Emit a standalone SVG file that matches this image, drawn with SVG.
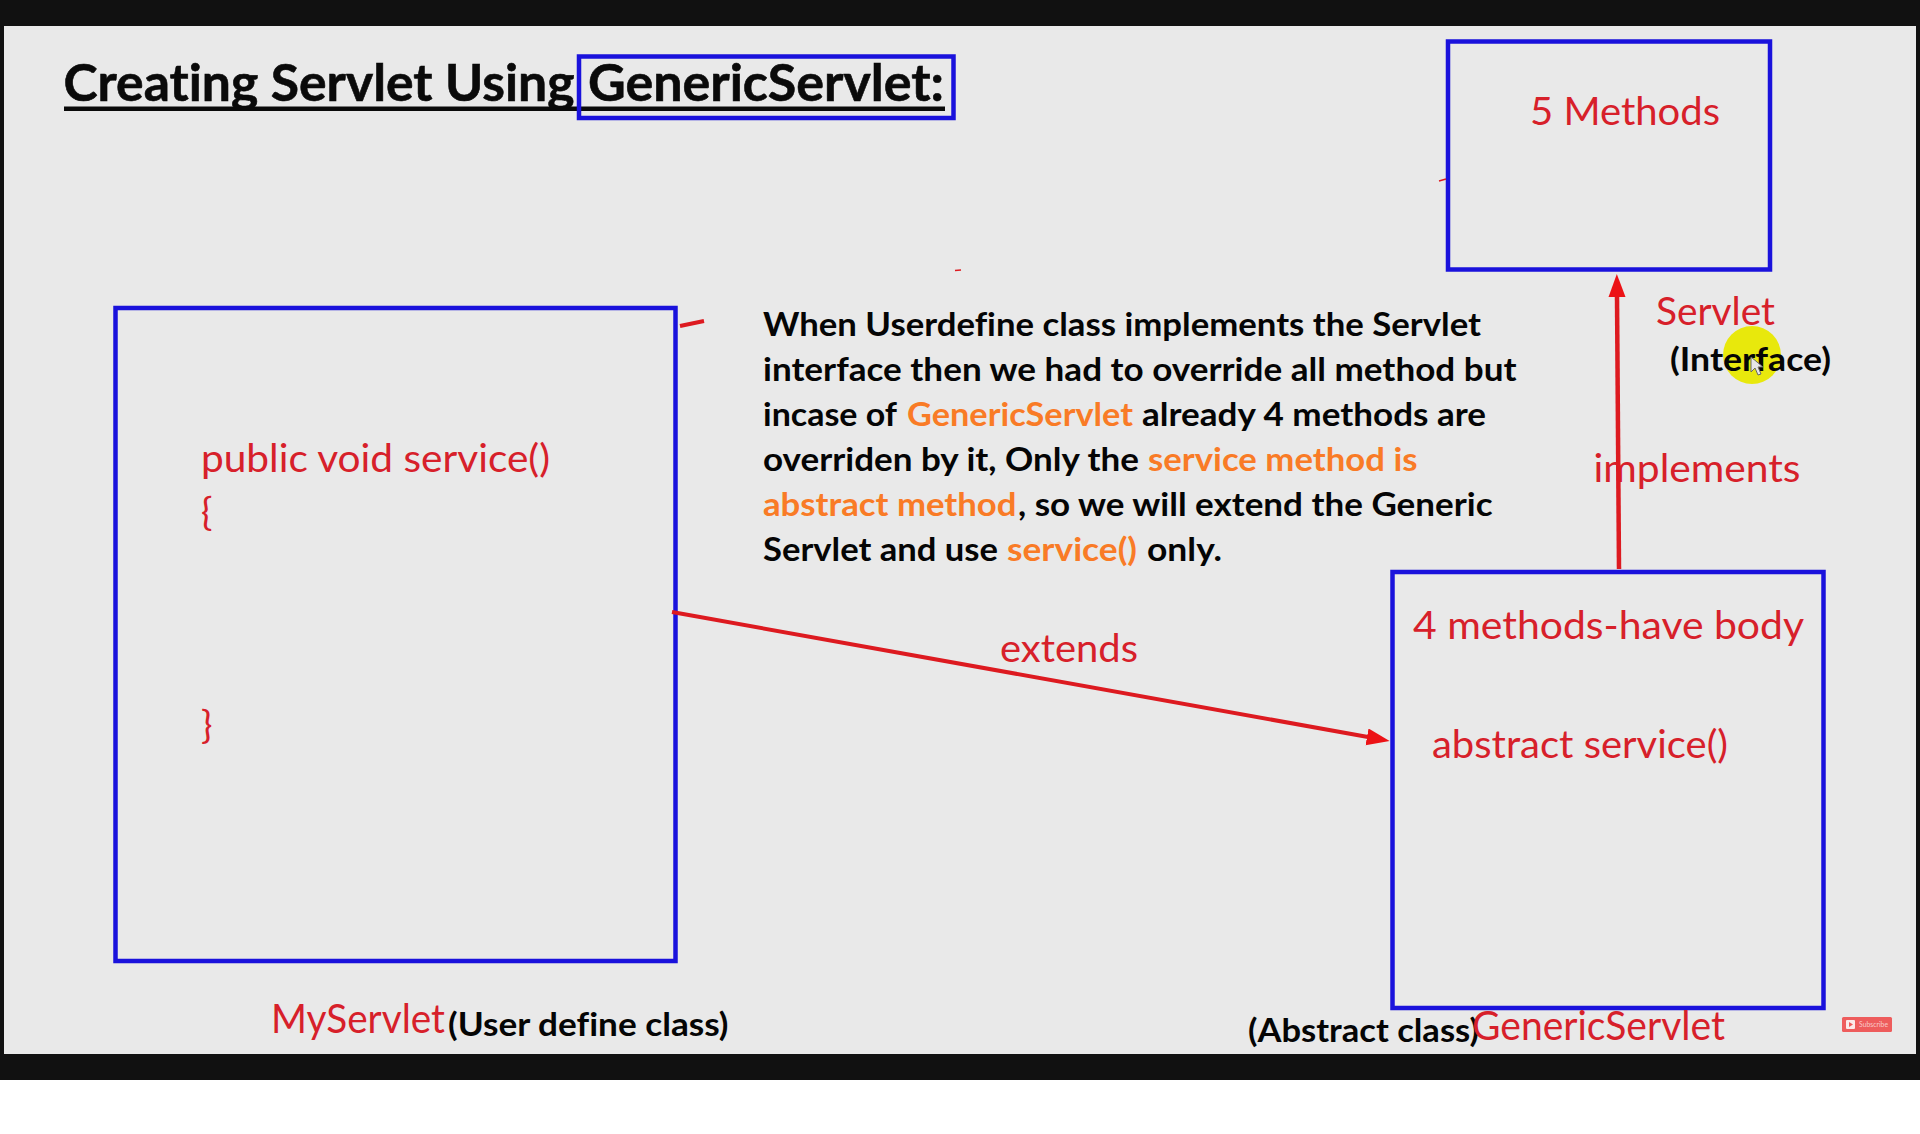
<svg xmlns="http://www.w3.org/2000/svg" width="1920" height="1134" viewBox="0 0 1920 1134">
<style>
text{font-family:Lato,"Open Sans","Liberation Sans",sans-serif;font-variant-ligatures:none}
.b{font-weight:700;fill:#050505;font-size:32px}
.o{font-weight:700;fill:#f97b26;font-size:32px}
.r{font-weight:400;fill:#d7202a;font-size:38px}
.t{font-weight:700;fill:#0a0a0a;font-size:52px;stroke:#0a0a0a;stroke-width:.6}
.box{fill:none;stroke:#1a12dc;stroke-width:4.5}
.line{fill:none;stroke:#dd1a20;stroke-width:4}
.tick{fill:none;stroke:#dd1a20}
</style>
<defs>
<marker id="ah" markerUnits="userSpaceOnUse" markerWidth="24" markerHeight="18" refX="1" refY="8.500" orient="auto"><path d="M0 0L23 8.500L0 17Z" fill="#ec1216"/></marker>
</defs>
<rect x="0" y="0" width="1920" height="1134" fill="#fff"/>
<rect x="0" y="0" width="1920" height="1080" fill="#111"/>
<rect x="4" y="26" width="1912" height="1028" fill="#e9e9e9"/>
<g id="title">
<text class="t" x="63.500" y="101" textLength="511" lengthAdjust="spacingAndGlyphs">Creating Servlet Using</text>
<text class="t" x="588" y="101" textLength="356" lengthAdjust="spacingAndGlyphs">GenericServlet:</text>
<rect x="64" y="106.500" width="881" height="4.500" fill="#0a0a0a"/>
<rect class="box" x="579" y="56.500" width="374.500" height="61.500"/>
</g>
<g id="servlet">
<rect class="box" x="1448" y="41.500" width="322" height="228"/>
<text class="r" x="1530" y="125" textLength="190" lengthAdjust="spacingAndGlyphs">5 Methods</text>
<text class="r" x="1656" y="324.500" textLength="119" lengthAdjust="spacingAndGlyphs">Servlet</text>
<circle cx="1752" cy="355" r="29" fill="#e8e80c"/>
<text class="b" x="1670" y="371" textLength="161" lengthAdjust="spacingAndGlyphs">(Interface)</text>
<path d="M1751 357L1751 372L1755 368L1758 375L1761 374L1758 367L1763 367Z" fill="#e6e6e6" stroke="#666" stroke-width="1"/>
</g>
<g id="implements-label">
<text class="r" x="1593.500" y="481.500" textLength="207" lengthAdjust="spacingAndGlyphs">implements</text>
</g>
<g id="extends-label">
<text class="r" x="1000" y="662" textLength="138" lengthAdjust="spacingAndGlyphs">extends</text>
</g>
<g id="description">
<text class="b" x="763" y="336" textLength="718" lengthAdjust="spacingAndGlyphs">When Userdefine class implements the Servlet</text>
<text class="b" x="763" y="381" textLength="753.500" lengthAdjust="spacingAndGlyphs">interface then we had to override all method but</text>
<text class="b" x="763" y="426" textLength="134" lengthAdjust="spacingAndGlyphs">incase of</text>
<text class="o" x="907" y="426" textLength="226" lengthAdjust="spacingAndGlyphs">GenericServlet</text>
<text class="b" x="1142" y="426" textLength="344" lengthAdjust="spacingAndGlyphs">already 4 methods are</text>
<text class="b" x="763" y="471" textLength="376" lengthAdjust="spacingAndGlyphs">overriden by it, Only the</text>
<text class="o" x="1148" y="471" textLength="269.500" lengthAdjust="spacingAndGlyphs">service method is</text>
<text class="o" x="763" y="516" textLength="253.500" lengthAdjust="spacingAndGlyphs">abstract method</text>
<text class="b" x="1018" y="516" textLength="474.500" lengthAdjust="spacingAndGlyphs">, so we will extend the Generic</text>
<text class="b" x="763" y="561" textLength="235" lengthAdjust="spacingAndGlyphs">Servlet and use</text>
<text class="o" x="1007" y="561" textLength="130" lengthAdjust="spacingAndGlyphs">service()</text>
<text class="b" x="1147" y="561" textLength="75" lengthAdjust="spacingAndGlyphs">only.</text>
</g>
<g id="myservlet">
<rect class="box" x="115.500" y="308" width="560" height="653"/>
<text class="r" x="201" y="472" textLength="349" lengthAdjust="spacingAndGlyphs">public void service()</text>
<text class="r" x="201" y="525">{</text>
<text class="r" x="201" y="738">}</text>
<text class="r" x="271" y="1033" style="font-size:41px" textLength="174" lengthAdjust="spacingAndGlyphs">MyServlet</text>
<text class="b" x="448" y="1036" textLength="280.500" lengthAdjust="spacingAndGlyphs">(User define class)</text>
</g>
<g id="genericservlet">
<rect class="box" x="1392.500" y="572" width="431" height="436"/>
<text class="r" x="1413" y="639" textLength="391" lengthAdjust="spacingAndGlyphs">4 methods-have body</text>
<text class="r" x="1432" y="758" textLength="296" lengthAdjust="spacingAndGlyphs">abstract service()</text>
<text class="b" x="1248" y="1042" style="font-size:32px" textLength="231" lengthAdjust="spacingAndGlyphs">(Abstract class)</text>
<text class="r" x="1472" y="1040" style="font-size:40px" textLength="253" lengthAdjust="spacingAndGlyphs">GenericServlet</text>
</g>
<g id="subscribe">
<rect x="1842" y="1017" width="50" height="15" rx="1.500" fill="#ee5c5c"/>
<rect x="1846" y="1020" width="9" height="9" rx="1" fill="#fbe9e9"/>
<path d="M1849 1022L1853 1024.500L1849 1027Z" fill="#ee5c5c"/>
<text x="1859" y="1027" font-size="8" fill="#f8c9c9" textLength="29" lengthAdjust="spacingAndGlyphs">Subscribe</text>
</g>
<g id="connectors">
<path class="line" d="M1619 569L1617 296" marker-end="url(#ah)" style="stroke-width:4.500"/>
<path class="line" d="M672 612L1368 737" marker-end="url(#ah)"/>
<path class="tick" d="M680 326L704 321" style="stroke-width:4"/>
<path class="tick" d="M955 270.500L961 270" style="stroke-width:1.500"/>
<path class="tick" d="M1439 181L1446 179" style="stroke-width:1.500"/>
</g>
</svg>
